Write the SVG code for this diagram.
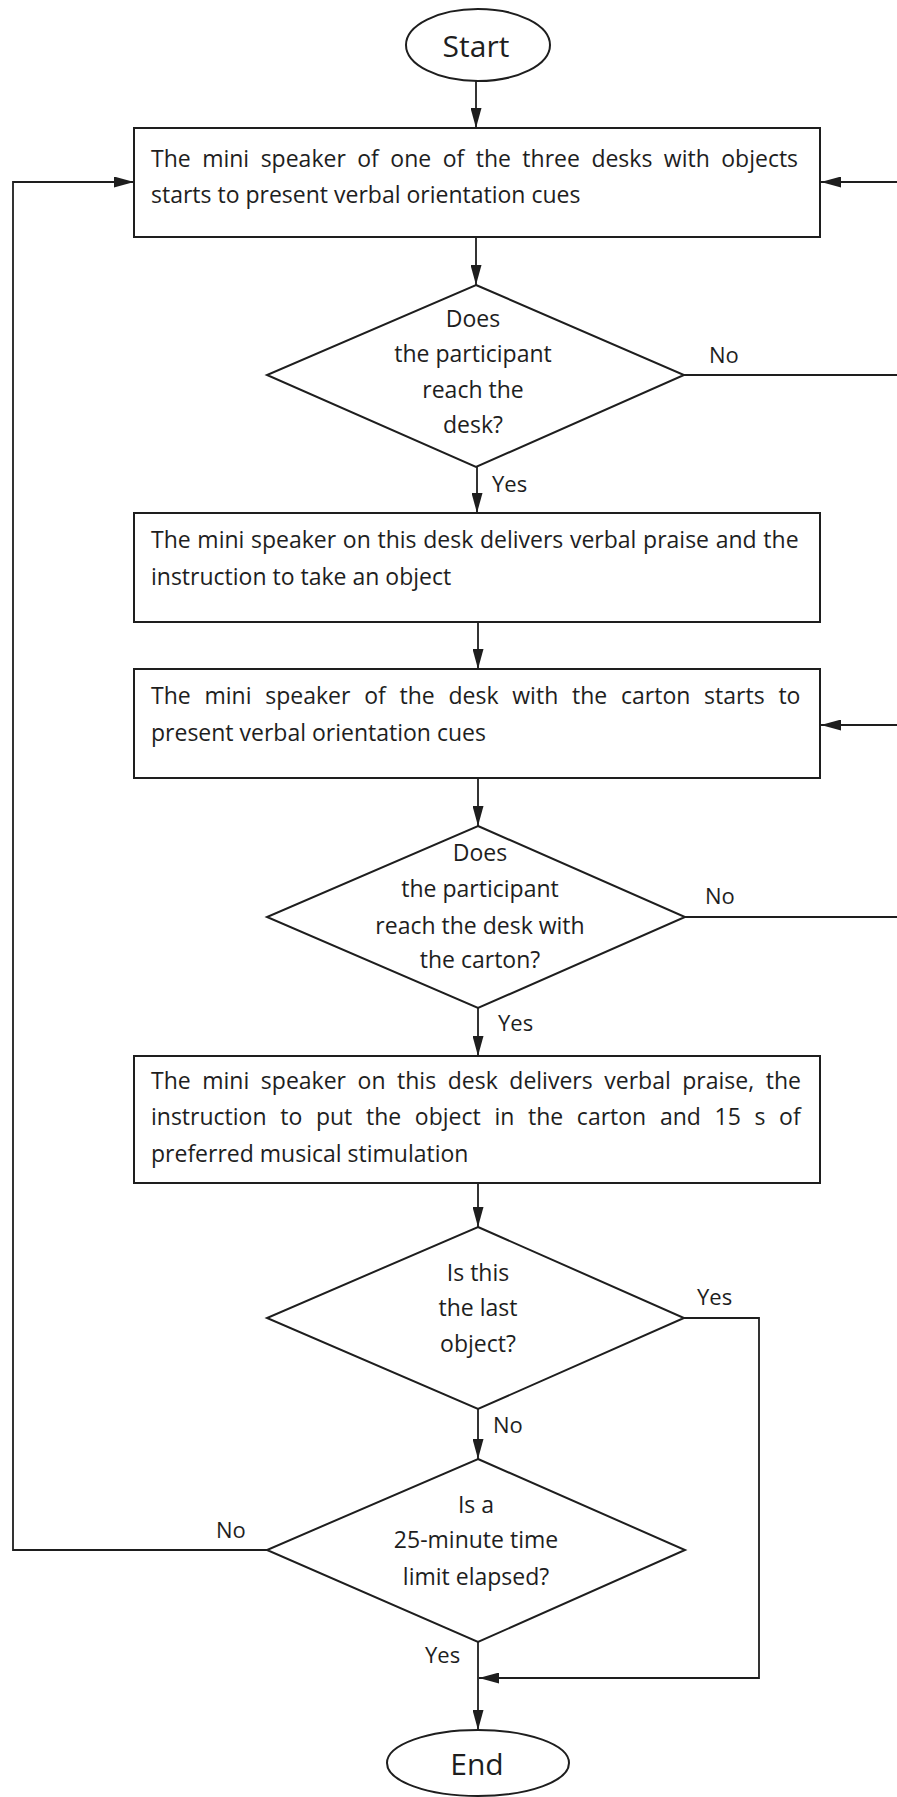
<svg xmlns="http://www.w3.org/2000/svg" width="897" height="1797" viewBox="0 0 897 1797">
<defs>
<style>
.shape{fill:#fff;stroke:#1e1e1e;stroke-width:2}
.t{font-family:"Open Sans","Liberation Sans",sans-serif;font-size:23px;fill:#1e1e1e}
.c{text-anchor:middle}
.lbl{font-family:"Open Sans","Liberation Sans",sans-serif;font-size:22px;fill:#1e1e1e}
.term{font-family:"Open Sans","Liberation Sans",sans-serif;font-size:30px;fill:#1e1e1e;text-anchor:middle}
.ln{fill:none;stroke:#1e1e1e;stroke-width:1.8}
.arr{marker-end:url(#ah)}
</style>
<marker id="ah" viewBox="0 0 20 11" refX="20" refY="5.5" markerWidth="20" markerHeight="11" markerUnits="userSpaceOnUse" orient="auto">
<path d="M0,0 L20,5.5 L0,11 z" fill="#1e1e1e"/>
</marker>
</defs>
<rect width="897" height="1797" fill="#fff"/>

<g id="connectors">
<path class="ln arr" d="M476,81 V128"/>
<path class="ln arr" d="M476,237 V285"/>
<path class="ln" d="M684,375 H897"/>
<path class="ln arr" d="M897,182 H821"/>
<path class="ln arr" d="M477,467 V513"/>
<path class="ln arr" d="M478,622 V669"/>
<path class="ln arr" d="M897,725 H821"/>
<path class="ln arr" d="M478,778 V826"/>
<path class="ln" d="M685,917 H897"/>
<path class="ln arr" d="M478,1008 V1056"/>
<path class="ln arr" d="M478,1183 V1227"/>
<path class="ln arr" d="M684,1318 H759 V1678 H479"/>
<path class="ln arr" d="M478,1409 V1459"/>
<path class="ln arr" d="M267,1550 H13 V182 H134"/>
<path class="ln arr" d="M478,1642 V1730"/>
<text class="lbl" x="709" y="363">No</text>
<text class="lbl" x="492" y="492">Yes</text>
<text class="lbl" x="705" y="904">No</text>
<text class="lbl" x="498" y="1031">Yes</text>
<text class="lbl" x="697" y="1305">Yes</text>
<text class="lbl" x="493" y="1433">No</text>
<text class="lbl" x="216" y="1538">No</text>
<text class="lbl" x="425" y="1663">Yes</text>
</g>

<g id="start">
<ellipse class="shape" cx="478" cy="45" rx="72" ry="36"/>
<text class="term" x="476" y="57">Start</text>
</g>

<g id="box1">
<rect class="shape" x="134" y="128" width="686" height="109"/>
<text class="t" x="151" y="167" word-spacing="5.5">The mini speaker of one of the three desks with objects</text>
<text class="t" x="151" y="203">starts to present verbal orientation cues</text>
</g>

<g id="decision1">
<polygon class="shape" points="476,285 684,375 476,467 267,375"/>
<text class="t c" x="473" y="327">Does</text>
<text class="t c" x="473" y="362">the participant</text>
<text class="t c" x="473" y="398">reach the</text>
<text class="t c" x="473" y="433">desk?</text>
</g>

<g id="box2">
<rect class="shape" x="134" y="513" width="686" height="109"/>
<text class="t" x="151" y="548" word-spacing="0.7">The mini speaker on this desk delivers verbal praise and the</text>
<text class="t" x="151" y="585">instruction to take an object</text>
</g>

<g id="box3">
<rect class="shape" x="134" y="669" width="686" height="109"/>
<text class="t" x="151" y="704" word-spacing="7.8">The mini speaker of the desk with the carton starts to</text>
<text class="t" x="151" y="741">present verbal orientation cues</text>
</g>

<g id="decision2">
<polygon class="shape" points="478,826 685,917 478,1008 267,917"/>
<text class="t c" x="480" y="861">Does</text>
<text class="t c" x="480" y="897">the participant</text>
<text class="t c" x="480" y="934">reach the desk with</text>
<text class="t c" x="480" y="968">the carton?</text>
</g>

<g id="box4">
<rect class="shape" x="134" y="1056" width="686" height="127"/>
<text class="t" x="151" y="1089" word-spacing="5.6">The mini speaker on this desk delivers verbal praise, the</text>
<text class="t" x="151" y="1125" word-spacing="7.7">instruction to put the object in the carton and 15 s of</text>
<text class="t" x="151" y="1162">preferred musical stimulation</text>
</g>

<g id="decision3">
<polygon class="shape" points="478,1227 684,1318 478,1409 267,1318"/>
<text class="t c" x="478" y="1281">Is this</text>
<text class="t c" x="478" y="1316">the last</text>
<text class="t c" x="478" y="1352">object?</text>
</g>

<g id="decision4">
<polygon class="shape" points="478,1459 685,1550 478,1642 267,1550"/>
<text class="t c" x="476" y="1513">Is a</text>
<text class="t c" x="476" y="1548">25-minute time</text>
<text class="t c" x="476" y="1585">limit elapsed?</text>
</g>

<g id="end">
<ellipse class="shape" cx="478" cy="1763" rx="91" ry="33"/>
<text class="term" x="477" y="1775">End</text>
</g>
</svg>
